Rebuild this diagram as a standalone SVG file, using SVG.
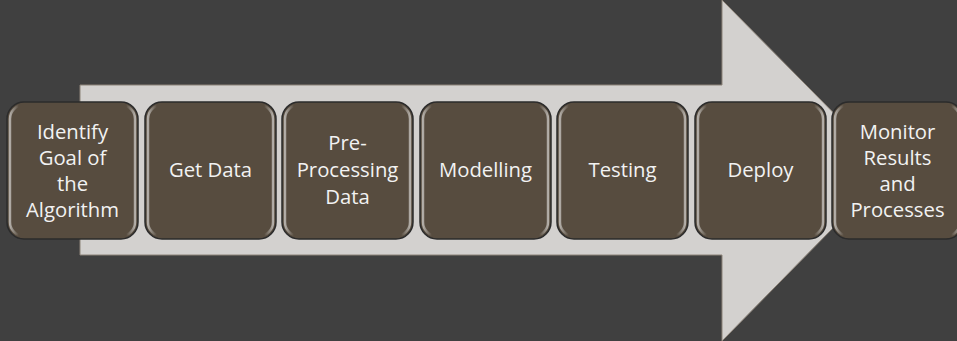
<svg xmlns="http://www.w3.org/2000/svg" width="957" height="341" viewBox="0 0 957 341">
  <defs>
    <linearGradient id="rim" x1="0" y1="0" x2="1" y2="0">
      <stop offset="0" stop-color="#ffffff" stop-opacity="0.55"/>
      <stop offset="0.07" stop-color="#ffffff" stop-opacity="0"/>
      <stop offset="0.93" stop-color="#ffffff" stop-opacity="0"/>
      <stop offset="1" stop-color="#ffffff" stop-opacity="0.55"/>
    </linearGradient>
    <style>
      .box { fill: #574c3f; stroke: #2b2b2b; stroke-width: 1.5; }
      .bevel { fill: none; stroke: url(#rim); stroke-width: 2.5; }
      .label { font-family: "Open Sans", "Liberation Sans", sans-serif; font-size: 20.3px; fill: #f2f2f2; text-anchor: middle; }
    </style>
  </defs>

  <rect width="957" height="341" fill="#404040"/>

  <!-- big process arrow behind the steps -->
  <g id="connectors">
    <path d="M80 85 H722 V0 L890 170 L722 341 V255 H80 Z" fill="#d3d1cf" stroke="#8c8378" stroke-width="1"/>
  </g>

  <g id="step1">
    <rect class="box" x="7" y="102" width="131" height="137" rx="17"/>
    <rect class="bevel" x="10" y="105" width="125" height="131" rx="14"/>
    <text class="label" x="72.5"><tspan x="72.5" y="139">Identify</tspan><tspan x="72.5" y="165">Goal of</tspan><tspan x="72.5" y="191">the</tspan><tspan x="72.5" y="217">Algorithm</tspan></text>
  </g>
  <g id="step2">
    <rect class="box" x="145" y="102" width="131" height="137" rx="17"/>
    <rect class="bevel" x="148" y="105" width="125" height="131" rx="14"/>
    <text class="label" x="210.5" y="177">Get Data</text>
  </g>
  <g id="step3">
    <rect class="box" x="282" y="102" width="131" height="137" rx="17"/>
    <rect class="bevel" x="285" y="105" width="125" height="131" rx="14"/>
    <text class="label" x="347.5"><tspan x="347.5" y="150">Pre-</tspan><tspan x="347.5" y="177">Processing</tspan><tspan x="347.5" y="204">Data</tspan></text>
  </g>
  <g id="step4">
    <rect class="box" x="420" y="102" width="131" height="137" rx="17"/>
    <rect class="bevel" x="423" y="105" width="125" height="131" rx="14"/>
    <text class="label" x="485.5" y="177">Modelling</text>
  </g>
  <g id="step5">
    <rect class="box" x="557" y="102" width="131" height="137" rx="17"/>
    <rect class="bevel" x="560" y="105" width="125" height="131" rx="14"/>
    <text class="label" x="622.5" y="177">Testing</text>
  </g>
  <g id="step6">
    <rect class="box" x="695" y="102" width="131" height="137" rx="17"/>
    <rect class="bevel" x="698" y="105" width="125" height="131" rx="14"/>
    <text class="label" x="760.5" y="177">Deploy</text>
  </g>
  <g id="step7">
    <rect class="box" x="832" y="102" width="131" height="137" rx="17"/>
    <rect class="bevel" x="835" y="105" width="125" height="131" rx="14"/>
    <text class="label" x="897.5"><tspan x="897.5" y="139">Monitor</tspan><tspan x="897.5" y="165">Results</tspan><tspan x="897.5" y="191">and</tspan><tspan x="897.5" y="217">Processes</tspan></text>
  </g>
</svg>
